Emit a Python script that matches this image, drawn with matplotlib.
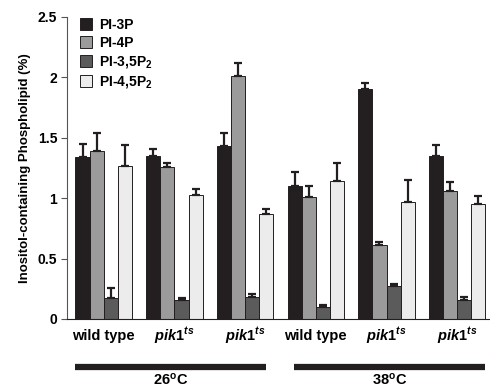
import numpy as np
import matplotlib.pyplot as plt

plt.rcParams['font.family'] = ['Liberation Sans', 'DejaVu Sans']
plt.rcParams['font.weight'] = 'bold'
plt.rcParams['mathtext.fontset'] = 'custom'
plt.rcParams['mathtext.it'] = 'Liberation Sans:italic:bold'
plt.rcParams['mathtext.bf'] = 'Liberation Sans:bold'
plt.rcParams['mathtext.rm'] = 'Liberation Sans:bold'

# datos
grupos = ['wild type', r'$\mathit{pik1}^{\mathit{ts}}$', r'$\mathit{pik1}^{\mathit{ts}}$',
          'wild type', r'$\mathit{pik1}^{\mathit{ts}}$', r'$\mathit{pik1}^{\mathit{ts}}$']
series = ['PI-3P', 'PI-4P', r'PI-3,5P$_\mathbf{2}$', r'PI-4,5P$_\mathbf{2}$']
pi3p = [1.34, 1.35, 1.43, 1.10, 1.90, 1.35]
pi4p = [1.39, 1.26, 2.01, 1.01, 0.61, 1.06]
pi35p2 = [0.17, 0.16, 0.18, 0.10, 0.27, 0.16]
pi45p2 = [1.27, 1.03, 0.87, 1.14, 0.97, 0.95]
err_pi3p = [0.11, 0.06, 0.11, 0.12, 0.05, 0.09]
err_pi4p = [0.15, 0.03, 0.11, 0.09, 0.03, 0.07]
err_pi35p2 = [0.09, 0.01, 0.03, 0.02, 0.02, 0.02]
err_pi45p2 = [0.17, 0.05, 0.04, 0.15, 0.18, 0.07]
temperaturas = [r'26$^\mathbf{o}$C', r'38$^\mathbf{o}$C']

valores = [pi3p, pi4p, pi35p2, pi45p2]
errores = [err_pi3p, err_pi4p, err_pi35p2, err_pi45p2]
colores = ['#231f20', '#9b9b9b', '#5b5b5b', '#ececec']

fig = plt.figure(figsize=(4.9, 3.87), dpi=100)
ax = fig.add_axes([67 / 490, 68 / 387, 422 / 490, 302 / 387])

x = np.arange(len(grupos))
w = 0.2
for i in range(4):
    pos = x - 0.3 + i * w
    ax.bar(pos, valores[i], w, color=colores[i], edgecolor='#231f20', linewidth=0.7,
           label=series[i], zorder=2)
    ax.errorbar(pos, valores[i], yerr=[np.zeros(len(x)), errores[i]], fmt='none',
                ecolor='#231f20', elinewidth=1.6, capsize=2.6, capthick=1.6, zorder=3)

ax.set_xlim(-0.52, 5.45)
ax.set_ylim(0, 2.5)
ax.set_yticks([0, 0.5, 1, 1.5, 2, 2.5])
ax.set_yticklabels(['0', '0.5', '1', '1.5', '2', '2.5'], fontsize=10, fontweight='bold')
ax.set_xticks([])
ax.spines['top'].set_visible(False)
ax.spines['right'].set_visible(False)
ax.spines['left'].set_color('#555555')
ax.spines['bottom'].set_color('#231f20')
ax.tick_params(axis='y', direction='out', length=4, color='#555555', pad=3)
ax.set_ylabel('Inositol-containing Phospholipid (%)', fontsize=9.5, fontweight='bold', labelpad=5)

tr = ax.get_xaxis_transform()
for xi, g in zip(x, grupos):
    ax.text(xi, -0.055, g, transform=tr, ha='center', va='center', fontsize=10.5, fontweight='bold')

tramos = [(-0.41, 2.29), (2.69, 5.39)]
for (a, b), t in zip(tramos, temperaturas):
    ax.plot([a, b], [-0.159, -0.159], transform=tr, color='#231f20', linewidth=4.5,
            solid_capstyle='butt', clip_on=False)
    ax.text((a + b) / 2, -0.2, t, transform=tr, ha='center', va='center',
            fontsize=10.5, fontweight='bold')

ax.legend(loc='upper left', bbox_to_anchor=(0.01, 1.025), frameon=False, fontsize=10,
          handlelength=0.9, handleheight=0.9, handletextpad=0.5, labelspacing=0.3,
          borderaxespad=0.2)

fig.savefig('out.png', dpi=100)
